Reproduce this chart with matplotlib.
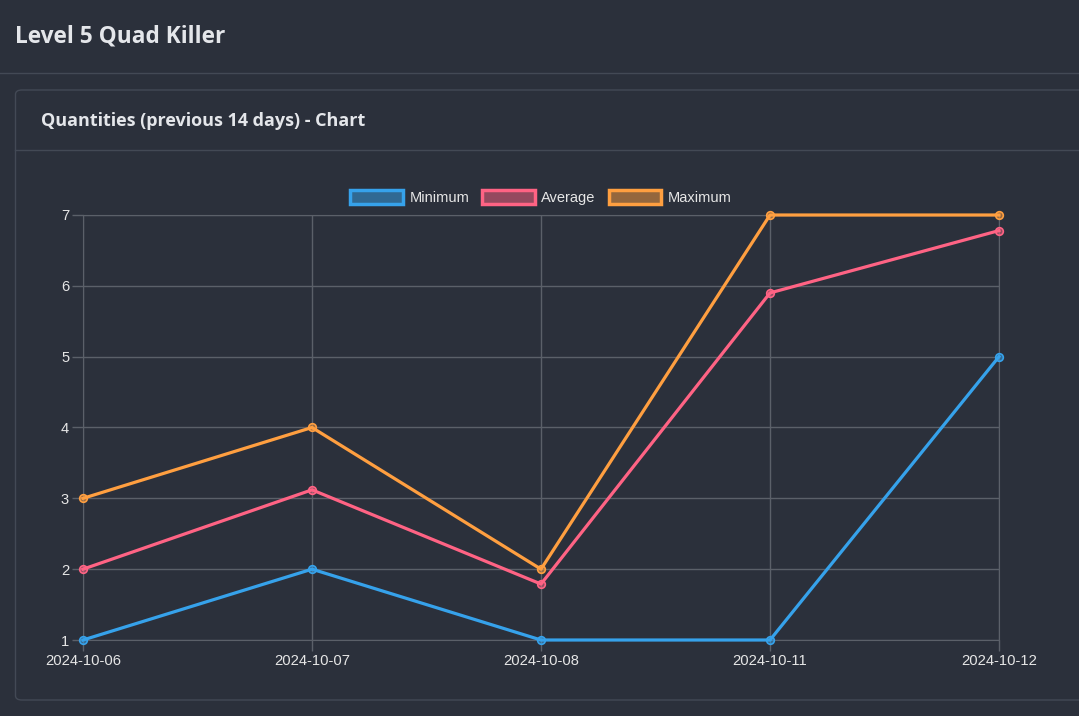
import matplotlib.pyplot as plt
from matplotlib.patches import Patch, FancyBboxPatch
from matplotlib.lines import Line2D

dates = ['2024-10-06', '2024-10-07', '2024-10-08', '2024-10-11', '2024-10-12']
minimum = [1, 2, 1, 1, 5]
average = [2, 3.12, 1.79, 5.9, 6.78]
maximum = [3, 4, 2, 7, 7]

series = [('Minimum', minimum, '#36a2eb'),
          ('Average', average, '#ff6384'),
          ('Maximum', maximum, '#ff9f40')]

bg = '#2b303b'
grid = '#5b6069'
text = '#e6e6e6'
W, H = 1079, 716

fig = plt.figure(figsize=(W / 100, H / 100), dpi=100, facecolor=bg)

# page header + card
fig.text(15 / W, 1 - 36 / H, 'Level 5 Quad Killer', color='#e4e6ea', fontsize=16.3,
         fontfamily='Open Sans', fontweight='bold', va='center')
fig.add_artist(Line2D([0, 1], [1 - 73 / H] * 2, color='#434955', lw=1, zorder=-5))
card = FancyBboxPatch((15.5 / W, 1 - 700 / H), 1100 / W, 610 / H,
                      boxstyle='round,pad=0,rounding_size=0.006',
                      transform=fig.transFigure, facecolor=bg, edgecolor='#434955',
                      lw=1, zorder=-10)
fig.add_artist(card)
fig.add_artist(Line2D([15.5 / W, 1], [1 - 150 / H] * 2, color='#434955', lw=1, zorder=-5))
fig.text(41 / W, 1 - 121 / H, 'Quantities (previous 14 days) - Chart', color='#e4e6ea',
         fontsize=13, fontfamily='Open Sans', fontweight='bold', va='center')

ax = fig.add_axes([83 / W, 1 - 640 / H, 916 / W, 425 / H])
ax.set_zorder(5)
ax.set_facecolor('none')
x = range(len(dates))
for name, vals, c in series:
    ax.plot(x, vals, color=c, lw=2.3, marker='o', markersize=5.5,
            markerfacecolor=c + '80', markeredgecolor=c, markeredgewidth=1.2,
            zorder=3, clip_on=False)

ax.set_xlim(0, len(dates) - 1)
ax.set_ylim(1, 7)
ax.set_xticks(list(x))
ax.set_xticklabels(dates)
ax.set_yticks(range(1, 8))
ax.grid(True, color=grid, lw=1)
for s in ax.spines.values():
    s.set_color(grid)
ax.tick_params(colors=grid, length=8, width=1, labelcolor=text, labelsize=10.6, pad=2)
for lab in ax.get_xticklabels() + ax.get_yticklabels():
    lab.set_fontfamily('Liberation Sans')

handles = [Patch(facecolor=c + '80', edgecolor=c, lw=2.5, label=n) for n, _, c in series]
leg = ax.legend(handles=handles, loc='lower center', bbox_to_anchor=(0.5, 1.0), ncol=3,
                frameon=False, handlelength=3.6, handleheight=1.1, handletextpad=0.45,
                columnspacing=0.9, borderaxespad=0.3,
                prop={'family': 'Liberation Sans', 'size': 10.5})
for t in leg.get_texts():
    t.set_color(text)

fig.savefig('out.png', dpi=100, facecolor=bg)
